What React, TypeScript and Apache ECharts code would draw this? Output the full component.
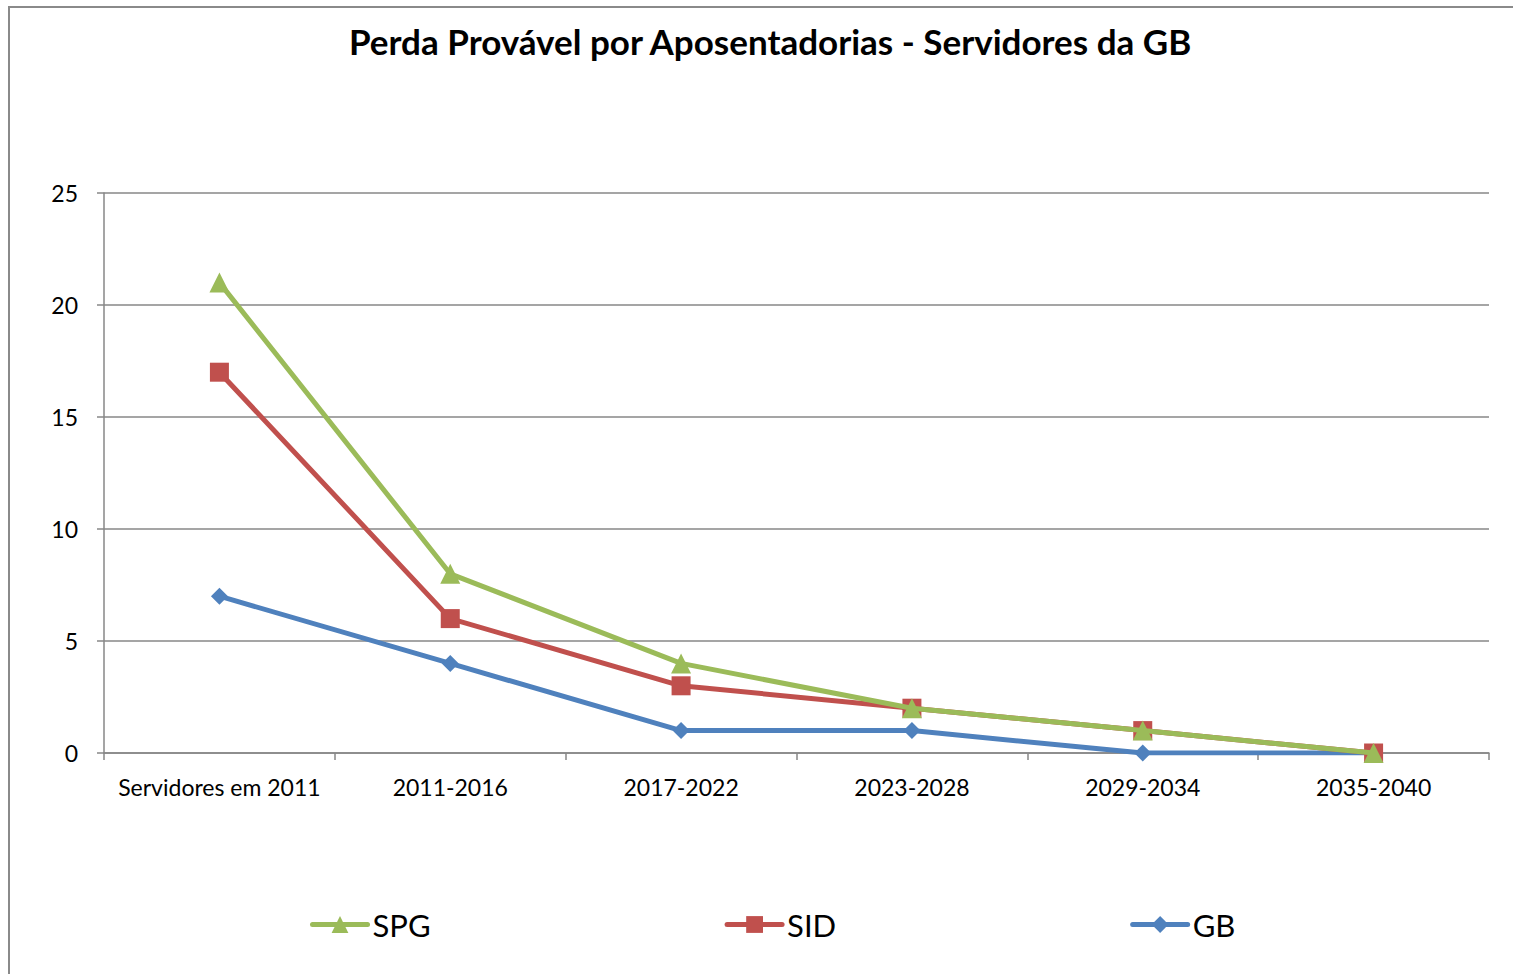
import React, { useEffect, useRef } from "react";
import * as echarts from "echarts";

const categories = ["Servidores em 2011", "2011-2016", "2017-2022", "2023-2028", "2029-2034", "2035-2040"];
const spg = [21, 8, 4, 2, 1, 0];
const sid = [17, 6, 3, 2, 1, 0];
const gb = [7, 4, 1, 1, 0, 0];
const titleText = "Perda Provável por Aposentadorias - Servidores da GB";
const FONT = "Lato, 'Open Sans', sans-serif";

export default function App() {
  const ref = useRef<HTMLDivElement>(null);
  useEffect(() => {
    const chart = echarts.init(ref.current!, null, { renderer: "svg" });
    chart.setOption({
      animation: false,
      backgroundColor: "#fff",
      title: {
        text: titleText,
        left: 344,
        top: 18,
        textStyle: { fontFamily: FONT, fontSize: 35, fontWeight: "bold", color: "#000" },
      },
      graphic: [
        {
          type: "rect",
          shape: { x: 9, y: 7, width: 1520, height: 990 },
          style: { fill: "none", stroke: "#8a8a8a", lineWidth: 2 },
          silent: true,
        },
      ],
      grid: { left: 104, right: 24, top: 193, bottom: 221 },
      legend: {
        data: ["SPG", "SID", "GB"],
        left: 305,
        top: 904,
        itemGap: 294,
        itemWidth: 55,
        itemHeight: 21,
        lineStyle: { width: 5, cap: "round" },
        textStyle: { fontFamily: FONT, fontSize: 31, color: "#000" },
      },
      xAxis: {
        type: "category",
        data: categories,
        boundaryGap: true,
        axisLine: { lineStyle: { color: "#878787", width: 1.5 } },
        axisTick: { show: true, length: 7, lineStyle: { color: "#878787", width: 1.5 } },
        axisLabel: { fontFamily: FONT, fontSize: 23, color: "#000", margin: 22, interval: 0 },
      },
      yAxis: {
        type: "value",
        min: 0,
        max: 25,
        interval: 5,
        axisLine: { show: true, lineStyle: { color: "#878787", width: 1.5 } },
        axisTick: { show: true, length: 7, lineStyle: { color: "#878787", width: 1.5 } },
        splitLine: { lineStyle: { color: "#878787", width: 1.5 } },
        axisLabel: { fontFamily: FONT, fontSize: 23, color: "#000", margin: 26 },
      },
      series: [
        {
          name: "GB",
          type: "line",
          data: gb,
          color: "#4F81BD",
          lineStyle: { width: 5 },
          symbol: "diamond",
          symbolSize: 17,
          z: 2,
        },
        {
          name: "SID",
          type: "line",
          data: sid,
          color: "#C0504D",
          lineStyle: { width: 5 },
          symbol: "rect",
          symbolSize: 19,
          z: 3,
        },
        {
          name: "SPG",
          type: "line",
          data: spg,
          color: "#9BBB59",
          lineStyle: { width: 5 },
          symbol: "triangle",
          symbolSize: 20,
          z: 4,
        },
      ],
    });
    return () => chart.dispose();
  }, []);
  return <div ref={ref} style={{ position: "absolute", left: 0, top: 0, width: 1513, height: 974 }} />;
}
